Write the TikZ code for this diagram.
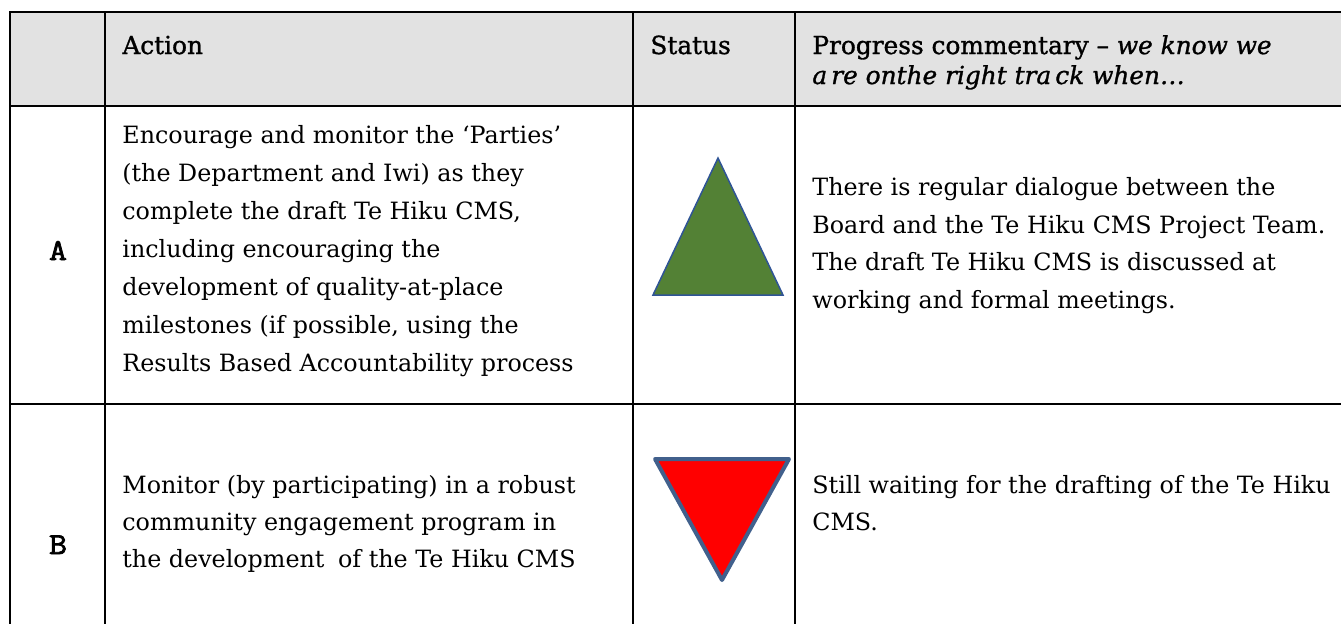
\documentclass[tikz,border=0pt]{standalone}
\usepackage{fontspec}
\setmainfont{DejaVu Serif}
\newfontfamily\hdrfont[FakeBold=1.2]{DejaVu Serif}
\newfontfamily\lblfont[FakeBold=2.5,FakeStretch=1.15]{Latin Modern Mono}
\definecolor{hdrgray}{HTML}{E2E2E2}
\definecolor{okgreen}{HTML}{538135}
\definecolor{okblue}{HTML}{2F5496}
\definecolor{badblue}{HTML}{41608C}
\definecolor{badred}{HTML}{FF0000}
\begin{document}
\begin{tikzpicture}[x=0.5pt,y=-0.5pt,
  grid/.style={line width=1pt,black},
  body/.style={anchor=base west,inner sep=0pt,font=\fontsize{11.9pt}{19pt}\selectfont},
  hdr/.style={anchor=base west,inner sep=0pt,font=\hdrfont\fontsize{12.4pt}{15pt}\selectfont},
  lbl/.style={anchor=base,inner sep=0pt,font=\lblfont\fontsize{15.2pt}{17pt}\selectfont},
  uptri/.style={fill=okgreen,draw=okblue,line width=0.75pt,line join=miter},
  downtri/.style={fill=badred,draw=badblue,line width=2pt,line join=round}]
\useasboundingbox (0,0) rectangle (1341,623);
% header background
\fill[hdrgray] (10,12) rectangle (1345,106);
% grid
\draw[grid] (10,12) -- (1345,12);
\draw[grid] (10,106) -- (1345,106);
\draw[grid] (10,404) -- (1345,404);
\draw[grid] (10,11) -- (10,630);
\draw[grid] (105,11) -- (105,630);
\draw[grid] (633,11) -- (633,630);
\draw[grid] (795,11) -- (795,630);
% header texts
\node[hdr] (hAction) at (122,54) {Action};
\node[hdr] (hStatus) at (650,54) {Status};
\node[hdr] (hProg1) at (812,54) {Progress commentary – \textit{we know we}};
\node[hdr] (hProg2) at (812,84) {\textit{a\,re onthe right tra\,ck when…}};
% row labels
\node[lbl] (lA) at (58,260) {A};
\node[lbl] (lB) at (58,554) {B};
% row A action
\node[body] (a1) at (122,143) {Encourage and monitor the ‘Parties’};
\node[body] (a2) at (122,181) {(the Department and Iwi) as they};
\node[body] (a3) at (122,219) {complete the draft Te Hiku CMS,};
\node[body] (a4) at (122,257) {including encouraging the};
\node[body] (a5) at (122,295) {development of quality-at-place};
\node[body] (a6) at (122,333) {milestones (if possible, using the};
\node[body] (a7) at (122,371) {Results Based Accountability process};
% row A commentary
\node[body] (c1) at (812,195) {There is regular dialogue between the};
\node[body] (c2) at (812,233) {Board and the Te Hiku CMS Project Team.};
\node[body] (c3) at (812,270) {The draft Te Hiku CMS is discussed at};
\node[body] (c4) at (812,308) {working and formal meetings.};
% row B action
\node[body] (b1) at (122,493) {Monitor (by participating) in a robust};
\node[body] (b2) at (122,530) {community engagement program in};
\node[body] (b3) at (122,567) {the development\hspace{3pt} of the Te Hiku CMS};
% row B commentary
\node[body] (d1) at (812,493) {Still waiting for the drafting of the Te Hiku};
\node[body] (d2) at (812,530) {CMS.};
% status triangles
\draw[uptri] (718,158) -- (783,295) -- (653,295) -- cycle;
\draw[downtri] (655,459) -- (789,459) -- (722,580) -- cycle;
\end{tikzpicture}
\end{document}
